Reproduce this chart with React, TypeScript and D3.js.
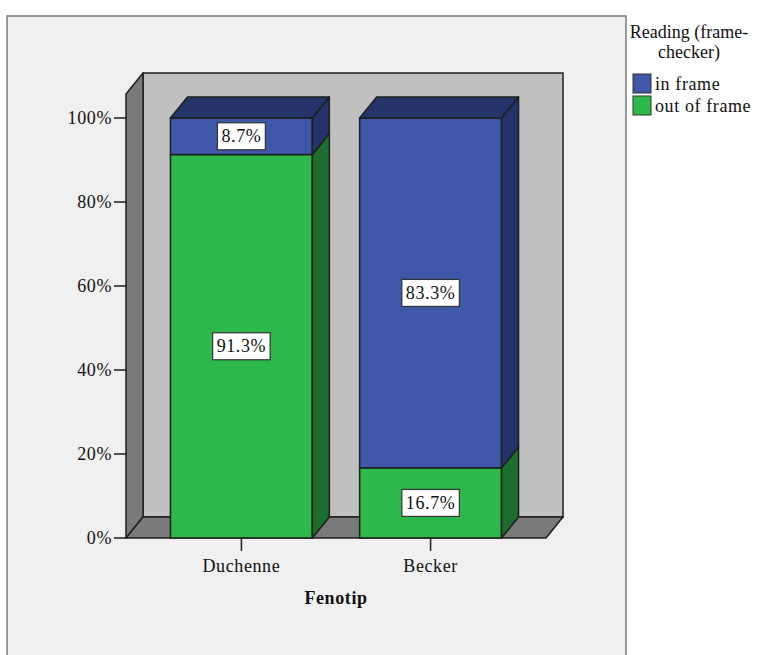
import React from "react";
import * as d3 from "d3";

// Fenotip categories and the stacked share of each reading frame
const categories = ["Duchenne", "Becker"];
const seriesNames = ["out of frame", "in frame"];
const outOfFrame = [91.3, 16.7];
const inFrame = [8.7, 83.3];
const yTicks = [0, 20, 40, 60, 80, 100];
const legendTitle = ["Reading (frame-", "checker)"];
const axisTitle = "Fenotip";

const W = 760;
const H = 655;
const FONT = "'Liberation Serif', 'Times New Roman', serif";
const LS = 0.6;

const colors: Record<string, { front: string; dark: string }> = {
  "in frame": { front: "#3E57A9", dark: "#24346A" },
  "out of frame": { front: "#2DB84B", dark: "#1C6D2E" },
};

// depth offset of the 3D box
const DX = 17;
const DY = 21;

let ctx: CanvasRenderingContext2D | null = null;
function textWidth(s: string, size: number): number {
  if (!ctx) ctx = document.createElement("canvas").getContext("2d");
  if (!ctx) return s.length * size * 0.5;
  ctx.font = `${size}px ${FONT}`;
  return ctx.measureText(s).width + s.length * LS;
}

const pts = (p: [number, number][]) => p.map((d) => d.join(",")).join(" ");

export default function App() {
  const x = d3
    .scaleBand<string>()
    .domain(categories)
    .range([126, 546])
    .paddingInner(0.25)
    .paddingOuter(0.235);
  const y = d3.scaleLinear().domain([0, 100]).range([538, 118]);

  const table = categories.map((c, i) => ({
    cat: c,
    "out of frame": outOfFrame[i],
    "in frame": inFrame[i],
  }));
  const stacked = d3.stack<any>().keys(seriesNames)(table);

  const [x0, x1] = x.range();
  const y0 = y(0);
  const yTop = y(100);
  const stroke = "#1E1E1E";

  const bars: React.ReactNode[] = [];
  categories.forEach((c, ci) => {
    const bx = x(c)!;
    const bw = x.bandwidth();
    stacked.forEach((s, si) => {
      const [lo, hi] = s[ci];
      const col = colors[s.key];
      const ya = y(lo);
      const yb = y(hi);
      const isTop = si === stacked.length - 1;
      bars.push(
        <g key={`${c}-${s.key}`}>
          <rect x={bx} y={yb} width={bw} height={ya - yb} fill={col.front} stroke={stroke} strokeWidth={1.5} />
          <polygon
            points={pts([
              [bx + bw, ya],
              [bx + bw, yb],
              [bx + bw + DX, yb - DY],
              [bx + bw + DX, ya - DY],
            ])}
            fill={col.dark}
            stroke={stroke}
            strokeWidth={1.5}
            strokeLinejoin="round"
          />
          {isTop && (
            <polygon
              points={pts([
                [bx, yb],
                [bx + DX, yb - DY],
                [bx + bw + DX, yb - DY],
                [bx + bw, yb],
              ])}
              fill={col.dark}
              stroke={stroke}
              strokeWidth={1.5}
              strokeLinejoin="round"
            />
          )}
        </g>
      );
    });
  });

  const labels: React.ReactNode[] = [];
  categories.forEach((c, ci) => {
    const cx = x(c)! + x.bandwidth() / 2;
    stacked.forEach((s) => {
      const [lo, hi] = s[ci];
      const v = hi - lo;
      const txt = `${v.toFixed(1)}%`;
      const cy = (y(lo) + y(hi)) / 2;
      const tw = textWidth(txt, 18);
      const bw = tw + 8;
      const bh = 27;
      labels.push(
        <g key={`lab-${c}-${s.key}`}>
          <rect x={cx - bw / 2} y={cy - bh / 2} width={bw} height={bh} fill="#FFFFFF" stroke="#333" strokeWidth={1.2} />
          <text x={cx} y={cy + 6} textAnchor="middle" fontSize={18} fill="#111">
            {txt}
          </text>
        </g>
      );
    });
  });

  return (
    <svg
      width={W}
      height={H}
      viewBox={`0 0 ${W} ${H}`}
      style={{ position: "absolute", left: 0, top: 0, background: "#FFFFFF" }}
      fontFamily={FONT}
      letterSpacing={LS}
    >
      {/* outer chart panel */}
      <rect x={7} y={16} width={619} height={H + 20} fill="#F0F0F0" stroke="#7A7A7A" strokeWidth={1.5} />

      {/* back wall */}
      <rect x={x0 + DX} y={yTop - DY - 24} width={x1 - x0} height={y0 - yTop + 24} fill="#C0C0C0" stroke={stroke} strokeWidth={1.5} />
      {/* left wall */}
      <polygon
        points={pts([
          [x0, y0],
          [x0 + DX, y0 - DY],
          [x0 + DX, yTop - DY - 24],
          [x0, yTop - 24],
        ])}
        fill="#7A7A7A"
        stroke={stroke}
        strokeWidth={1.5}
        strokeLinejoin="round"
      />
      {/* floor */}
      <polygon
        points={pts([
          [x0, y0],
          [x1, y0],
          [x1 + DX, y0 - DY],
          [x0 + DX, y0 - DY],
        ])}
        fill="#7A7A7A"
        stroke={stroke}
        strokeWidth={1.5}
        strokeLinejoin="round"
      />

      {bars}
      {labels}

      {/* y axis ticks and labels */}
      {yTicks.map((t) => (
        <g key={`yt-${t}`}>
          <line x1={x0 - 12} x2={x0} y1={y(t)} y2={y(t)} stroke={stroke} strokeWidth={1.5} />
          <text x={x0 - 14} y={y(t) + 6} textAnchor="end" fontSize={18} fill="#111">
            {`${t}%`}
          </text>
        </g>
      ))}

      {/* x axis ticks and labels */}
      {categories.map((c) => {
        const cx = x(c)! + x.bandwidth() / 2;
        return (
          <g key={`xt-${c}`}>
            <line x1={cx} x2={cx} y1={y0} y2={y0 + 13} stroke={stroke} strokeWidth={1.5} />
            <text x={cx} y={572} textAnchor="middle" fontSize={18} fill="#111">
              {c}
            </text>
          </g>
        );
      })}
      <text x={(x0 + x1) / 2} y={604} textAnchor="middle" fontSize={18} fontWeight="bold" fill="#111">
        {axisTitle}
      </text>

      {/* legend */}
      {legendTitle.map((l, i) => (
        <text key={`lt-${i}`} x={689} y={38 + i * 20} textAnchor="middle" fontSize={18} letterSpacing={0} fill="#111">
          {l}
        </text>
      ))}
      {["in frame", "out of frame"].map((k, i) => (
        <g key={`lg-${k}`}>
          <rect x={633} y={74 + i * 22} width={18} height={19} fill={colors[k].front} stroke="#333" strokeWidth={1} />
          <text x={655} y={90 + i * 22} fontSize={18} fill="#111">
            {k}
          </text>
        </g>
      ))}
    </svg>
  );
}
